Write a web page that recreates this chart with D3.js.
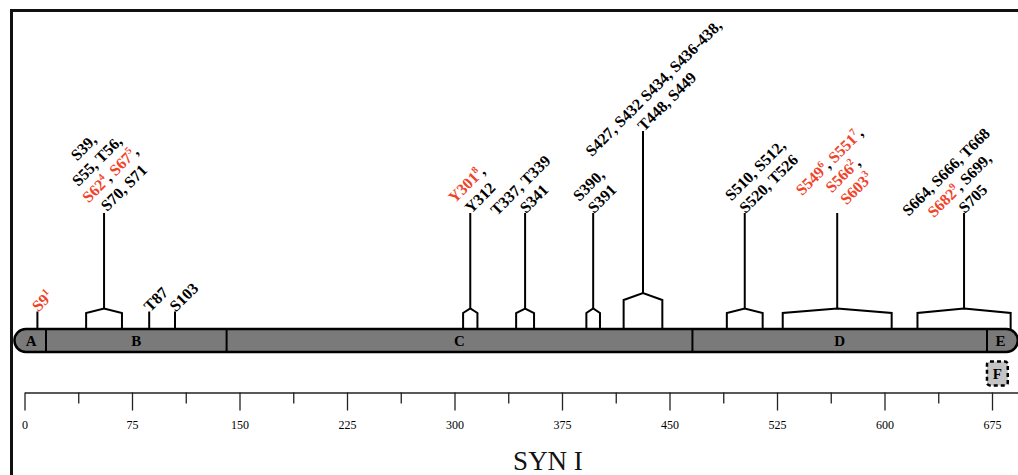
<!DOCTYPE html>
<html>
<head>
<meta charset="utf-8">
<script src="https://cdn.jsdelivr.net/npm/d3@7"></script>
<style>
  body { margin: 0; background: #fff; overflow: hidden; }
  svg { display: block; font-family: "Liberation Serif", "Times New Roman", serif; }
</style>
</head>
<body>
<svg id="chart"></svg>
<script>
// residue numbers
const domainNames = ["A", "B", "C", "D", "E"];
const domainStart = [1, 15, 141, 466, 671.5];
const domainEnd = [15, 141, 466, 671.5, 685];
const extraDomain = { name: "F", from: 671.5, to: 686 };

// single sites: [residue, label]
const singleSites = [
    [9, "[S9|1]"],
    [87, "T87"],
    [105, "S103"]
];

// clustered sites: bracket from / to (residue) and label lines
// [name|n] = red site with superscript n
const groupFrom = [43, 306, 343, 392, 418, 490, 529, 623];
const groupTo = [68, 316, 355.5, 401.5, 445, 515, 605, 688];
const groupLabels = [
    ["S39,", "S55, T56,", "[S62|4], [S67|5],", "S70, S71"],
    ["[Y301|8],", "Y312"],
    ["T337, T339", "S341"],
    ["S390,", "S391"],
    ["S427, S432 S434, S436-438,", "T448, S449"],
    ["S510, S512,", "S520, T526"],
    ["[S549|6], [S551|7],", "[S566|2],", "[S603|3]"],
    ["S664, S666, T668", "[S682|9], S699,", "S705"]
];

const axisTicks = d3.range(0, 700, 37.5);
const title = "SYN I";

const width = 1018, height = 475;
const red = "#f0442a";
const barTop = 329, barH = 23;

const svg = d3.select("#chart").attr("width", width).attr("height", height);

const x = d3.scaleLinear().domain([0, 675]).range([24.5, 992]);

// frame
svg.append("path")
    .attr("d", `M11.5,${height + 5}V10.5H${width + 5}`)
    .attr("fill", "none")
    .attr("stroke", "#111")
    .attr("stroke-width", 3);

// text with red parts + superscripts
function richText(sel, str) {
    const re = /\[([^|\]]+)\|([^\]]+)\]/g;
    let last = 0, m, parts = [];
    while ((m = re.exec(str))) {
        if (m.index > last) parts.push({ t: str.slice(last, m.index) });
        parts.push({ t: m[1], red: true });
        parts.push({ t: m[2], red: true, sup: true });
        last = m.index + m[0].length;
    }
    if (last < str.length) parts.push({ t: str.slice(last) });
    let raised = false;
    parts.forEach(p => {
        const ts = sel.append("tspan").text(p.t);
        if (p.red) ts.attr("fill", red);
        if (p.sup) {
            ts.attr("font-size", 10).attr("dy", -6.5);
            raised = true;
        } else if (raised) {
            ts.attr("dy", 6.5);
            raised = false;
        }
    });
}

// label block: last line starts at stem top, other lines centred on it
function drawLabel(sx, sy, lines, shift = 0) {
    const g = svg.append("g")
        .attr("transform", `translate(${sx},${sy}) rotate(-45)`)
        .attr("font-size", 16)
        .attr("font-weight", "bold")
        .attr("fill", "#000");
    const n = lines.length;
    const lastT = g.append("text").attr("x", shift).attr("y", 1.5);
    richText(lastT, lines[n - 1]);
    const w = lastT.node().getComputedTextLength();
    lines.slice(0, n - 1).forEach((l, i) => {
        const t = g.append("text")
            .attr("x", shift + w / 2)
            .attr("y", 1.5 - (n - 1 - i) * 19)
            .attr("text-anchor", "middle");
        richText(t, l);
    });
}

// brackets + stems
const marks = svg.append("g").attr("fill", "none").attr("stroke", "#000").attr("stroke-width", 2);
groupFrom.forEach((f, i) => {
    const x0 = x(f), x1 = x(groupTo[i]), xm = (x0 + x1) / 2;
    const tall = i === 4;
    const side = tall ? 300 : 313, peak = tall ? 293 : 308.5;
    const stemTop = tall ? 131 : 213;
    marks.append("path")
        .attr("d", `M${x0},${barTop}V${side}L${xm},${peak}L${x1},${side}V${barTop}`)
        .attr("fill", "#fff");
    marks.append("line")
        .attr("x1", xm).attr("x2", xm)
        .attr("y1", peak).attr("y2", stemTop);
    drawLabel(xm, stemTop, groupLabels[i], i === 6 ? 12 : (i === 0 ? 3 : 0));
});

singleSites.forEach(d => {
    marks.append("line")
        .attr("x1", x(d[0])).attr("x2", x(d[0]))
        .attr("y1", barTop).attr("y2", 311.5);
    drawLabel(x(d[0]), 311.5, [d[1]]);
});

// domain bar
const bar = svg.append("g");
const r = barH / 2;
const barX0 = x(domainStart[0]) - r, barX1 = x(domainEnd[domainEnd.length - 1]) + r;
bar.append("rect")
    .attr("x", barX0).attr("y", barTop)
    .attr("width", barX1 - barX0).attr("height", barH)
    .attr("rx", r).attr("ry", r)
    .attr("fill", "#7a7a7a")
    .attr("stroke", "#000")
    .attr("stroke-width", 2.5);
domainStart.slice(1).forEach(s => {
    bar.append("line")
        .attr("x1", x(s)).attr("x2", x(s))
        .attr("y1", barTop).attr("y2", barTop + barH)
        .attr("stroke", "#000").attr("stroke-width", 2);
});
domainNames.forEach((nm, i) => {
    const a = i === 0 ? barX0 : x(domainStart[i]);
    const b = i === domainNames.length - 1 ? barX1 : x(domainEnd[i]);
    bar.append("text")
        .attr("x", (a + b) / 2 + (i === 0 ? 1 : 0) - (i === 4 ? 2 : 0))
        .attr("y", barTop + 17)
        .attr("text-anchor", "middle")
        .attr("font-size", 15)
        .attr("font-weight", "bold")
        .text(nm);
});

// F box
bar.append("rect")
    .attr("x", x(extraDomain.from)).attr("y", 361.5)
    .attr("width", x(extraDomain.to) - x(extraDomain.from)).attr("height", 24)
    .attr("rx", 3)
    .attr("fill", "#c4c4c4")
    .attr("stroke", "#000")
    .attr("stroke-width", 2.5)
    .attr("stroke-dasharray", "4,3");
bar.append("text")
    .attr("x", (x(extraDomain.from) + x(extraDomain.to)) / 2)
    .attr("y", 379)
    .attr("text-anchor", "middle")
    .attr("font-size", 15)
    .attr("font-weight", "bold")
    .text(extraDomain.name);

// axis
const xAxisScale = x.copy().domain([0, x.invert(width + 5)]).range([24.5, width + 5]);
const major = axisTicks.filter(t => t % 75 === 0);
const minor = axisTicks.filter(t => t % 75 !== 0);

const axisG = svg.append("g").attr("transform", "translate(0,392.5)");
axisG.call(d3.axisBottom(xAxisScale)
    .tickValues(major)
    .tickSize(18)
    .tickSizeOuter(0)
    .tickPadding(10)
    .tickFormat(d3.format("d")));
axisG.append("g").call(d3.axisBottom(xAxisScale)
    .tickValues(minor)
    .tickSize(11)
    .tickSizeOuter(0)
    .tickFormat(""))
    .select(".domain").remove();
svg.selectAll(".tick line").attr("stroke", "#222").attr("stroke-width", 1.3);
axisG.select(".domain").attr("stroke", "#222").attr("stroke-width", 1.3);
axisG.selectAll("text")
    .attr("font-family", "Liberation Serif, serif")
    .attr("font-size", 12)
    .attr("fill", "#000");

svg.append("text")
    .attr("x", 548)
    .attr("y", 470)
    .attr("text-anchor", "middle")
    .attr("font-size", 27)
    .attr("fill", "#111")
    .text(title);
</script>
</body>
</html>
